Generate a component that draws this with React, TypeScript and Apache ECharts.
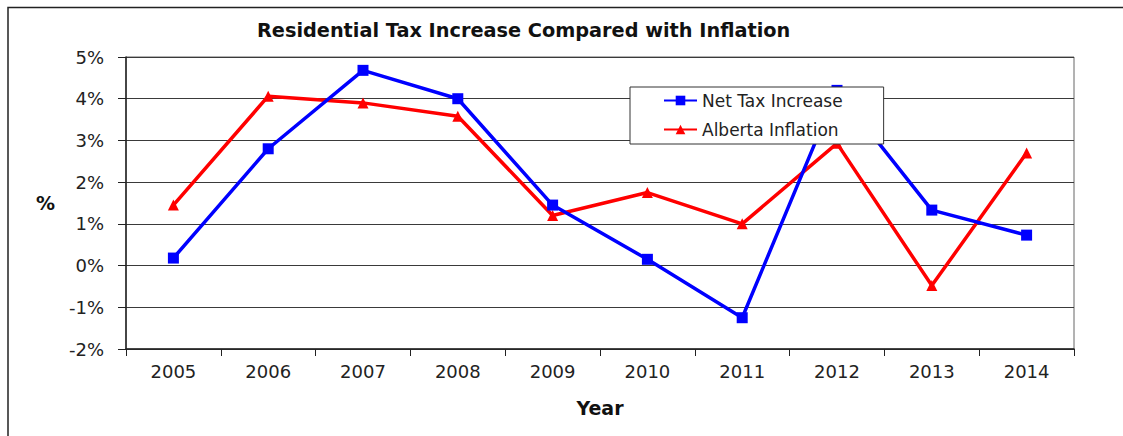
import React, { useEffect, useRef } from "react";
import * as echarts from "echarts";

const years = ["2005", "2006", "2007", "2008", "2009", "2010", "2011", "2012", "2013", "2014"];
const netTaxIncrease = [0.18, 2.8, 4.68, 4.0, 1.45, 0.15, -1.25, 4.2, 1.33, 0.73];
const albertaInflation = [1.45, 4.06, 3.9, 3.58, 1.2, 1.75, 1.0, 2.93, -0.48, 2.7];
const yMin = -2;
const yMax = 5;
const yStep = 1;

const FONT = "'DejaVu Sans', 'Liberation Sans', Arial, sans-serif";

export default function App() {
  const ref = useRef<HTMLDivElement>(null);
  useEffect(() => {
    if (!ref.current) return;
    const chart = echarts.init(ref.current, null, { renderer: "svg" });
    chart.setOption({
      animation: false,
      backgroundColor: "#ffffff",
      title: {
        text: "Residential Tax Increase Compared with Inflation",
        left: 257,
        top: 21,
        padding: 0,
        textStyle: { fontFamily: FONT, fontSize: 19.3, fontWeight: "bold", color: "#111" },
      },
      graphic: [
        {
          type: "polyline",
          shape: { points: [[8, 440], [8, 7.5], [1130, 7.5]] },
          style: { fill: "none", stroke: "#222", lineWidth: 1.5 },
          silent: true,
        },
      ],
      legend: {
        orient: "vertical",
        left: 630,
        top: 87,
        padding: [5, 41, 6, 33],
        itemGap: 12,
        itemWidth: 33,
        itemHeight: 12,
        backgroundColor: "#ffffff",
        borderColor: "#333",
        borderWidth: 1,
        textStyle: { fontFamily: FONT, fontSize: 17, color: "#222" },
        data: ["Net Tax Increase", "Alberta Inflation"],
      },
      grid: {
        left: 126,
        top: 57,
        right: 49,
        bottom: 87,
        show: true,
        borderColor: "#666",
        borderWidth: 1,
        backgroundColor: "transparent",
      },
      xAxis: {
        type: "category",
        data: years,
        boundaryGap: true,
        name: "Year",
        nameLocation: "middle",
        nameGap: 49,
        nameTextStyle: { fontFamily: FONT, fontSize: 19, fontWeight: "bold", color: "#111" },
        axisLine: { onZero: false, lineStyle: { color: "#222", width: 1.5 } },
        axisTick: { show: true, length: 7, alignWithLabel: false, lineStyle: { color: "#222" } },
        axisLabel: { fontFamily: FONT, fontSize: 18, color: "#222", margin: 13 },
      },
      yAxis: {
        type: "value",
        min: yMin,
        max: yMax,
        interval: yStep,
        name: "%",
        nameLocation: "middle",
        nameRotate: 0,
        nameGap: 71,
        nameTextStyle: { fontFamily: FONT, fontSize: 19, fontWeight: "bold", color: "#111" },
        axisLine: { show: true, lineStyle: { color: "#222", width: 1.5 } },
        axisTick: { show: true, length: 8, lineStyle: { color: "#222" } },
        axisLabel: { fontFamily: FONT, fontSize: 18, color: "#222", margin: 22, formatter: "{value}%" },
        splitLine: { show: true, lineStyle: { color: "#3a3a3a", width: 1 } },
      },
      series: [
        {
          name: "Net Tax Increase",
          type: "line",
          data: netTaxIncrease,
          color: "#0000ff",
          symbol: "rect",
          symbolSize: 11,
          lineStyle: { width: 3.5, color: "#0000ff" },
          itemStyle: { color: "#0000ff" },
          z: 3,
        },
        {
          name: "Alberta Inflation",
          type: "line",
          data: albertaInflation,
          color: "#ff0000",
          symbol: "triangle",
          symbolSize: 11,
          lineStyle: { width: 3.5, color: "#ff0000" },
          itemStyle: { color: "#ff0000" },
          z: 2,
        },
      ],
    });
    return () => chart.dispose();
  }, []);
  return (
    <div
      ref={ref}
      style={{ position: "fixed", left: 0, top: 0, width: 1123, height: 436 }}
    />
  );
}
